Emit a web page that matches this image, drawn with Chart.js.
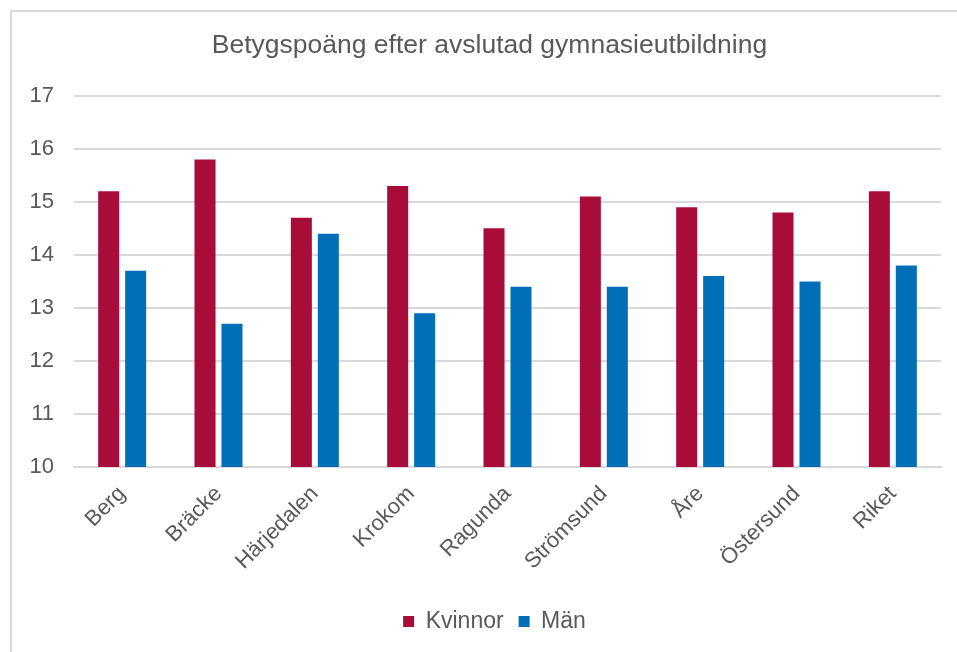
<!DOCTYPE html>
<html>
<head>
<meta charset="utf-8">
<script src="https://cdn.jsdelivr.net/npm/chart.js@4"></script>
<style>
  html, body { margin: 0; padding: 0; background: #fff; }
  #ram {
    position: absolute; left: 10px; top: 10px; width: 947px; height: 642px;
    border-left: 2px solid #d9d9d9; border-top: 2px solid #d9d9d9;
  }
  #wrap { position: absolute; left: 0; top: 0; width: 945px; height: 640px; }
</style>
</head>
<body>
<div id="ram"><div id="wrap"><canvas id="myChart"></canvas></div></div>
<script>
// Kommuner i Jämtlands län samt riket
const kommuner = ['Berg', 'Bräcke', 'Härjedalen', 'Krokom', 'Ragunda', 'Strömsund', 'Åre', 'Östersund', 'Riket'];

// Betygspoäng per kön
const kvinnor = [15.2, 15.8, 14.7, 15.3, 14.5, 15.1, 14.9, 14.8, 15.2];
const man = [13.7, 12.7, 14.4, 12.9, 13.4, 13.4, 13.6, 13.5, 13.8];

const yMin = 10;
const yMax = 17;

const textFarg = '#595959';
const gridFarg = '#d9d9d9';
const font = 'Liberation Sans, Arial, sans-serif';

const ctx = document.querySelector('#myChart');

// Flyttar titel och förklaring lite åt höger, som i originalet
const flyttaPlugin = {
  id: 'flytta',
  afterLayout(chart) {
    if (chart.titleBlock) {
      chart.titleBlock.left += 13;
      chart.titleBlock.right += 13;
    }
    if (chart.legend) {
      chart.legend.left += 18;
      chart.legend.right += 18;
    }
  }
};

new Chart(ctx, {
  type: 'bar',
  data: {
    labels: kommuner,
    datasets: [
      { label: 'Kvinnor', data: kvinnor, backgroundColor: '#a80d3a' },
      { label: 'Män', data: man, backgroundColor: '#006fb8' }
    ]
  },
  plugins: [flyttaPlugin],
  options: {
    responsive: true,
    maintainAspectRatio: false,
    animation: false,
    datasets: { bar: { categoryPercentage: 0.56, barPercentage: 0.78 } },
    layout: { padding: { left: 0, right: 16, top: 0, bottom: 9 } },
    plugins: {
      title: {
        display: true,
        text: 'Betygspoäng efter avslutad gymnasieutbildning',
        color: textFarg,
        font: { family: font, size: 26.5, weight: 'normal' },
        padding: { top: 18, bottom: 34 }
      },
      legend: {
        position: 'bottom',
        labels: {
          color: textFarg,
          font: { family: font, size: 23 },
          boxWidth: 11,
          boxHeight: 11,
          padding: 15
        }
      },
      tooltip: { enabled: false }
    },
    scales: {
      x: {
        grid: { display: false },
        border: { color: gridFarg, width: 2 },
        ticks: {
          color: textFarg,
          font: { family: font, size: 22 },
          minRotation: 45,
          maxRotation: 45,
          padding: 6
        },
        afterFit: axis => { axis.height = 128; }
      },
      y: {
        min: yMin,
        max: yMax,
        grid: { color: gridFarg, lineWidth: 2, drawTicks: false },
        border: { display: false },
        ticks: {
          stepSize: 1,
          color: textFarg,
          font: { family: font, size: 22 },
          padding: 20
        },
        afterFit: axis => { axis.width = 62; }
      }
    }
  }
});
</script>
</body>
</html>
